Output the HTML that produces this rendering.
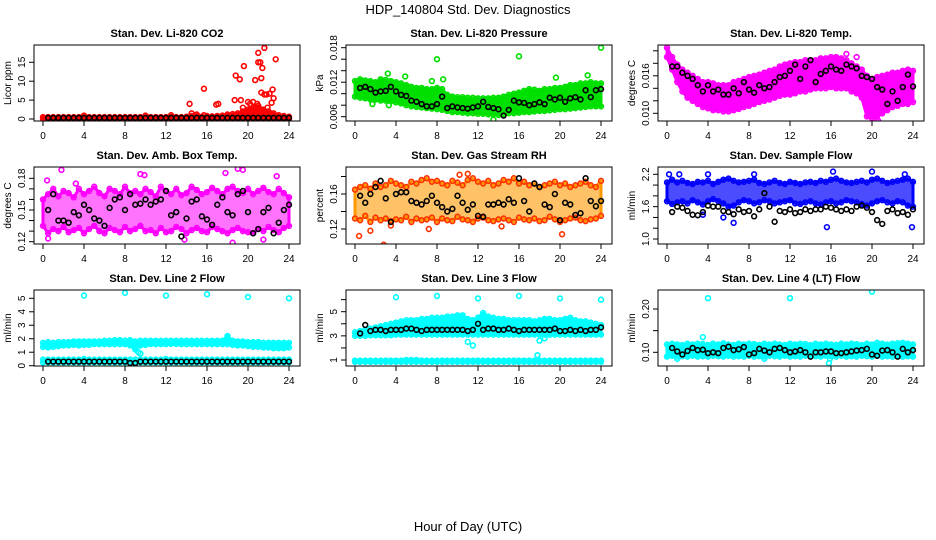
<!DOCTYPE html>
<html><head><meta charset="utf-8"><style>
html,body{margin:0;padding:0;background:#fff;}
svg{display:block;font-family:"Liberation Sans",Arial,sans-serif;}
</style></head><body>
<svg id="chart" width="936" height="540" viewBox="0 0 936 540">
<text x="468" y="14" text-anchor="middle" font-size="13">HDP_140804  Std. Dev. Diagnostics</text>
<text x="468" y="531" text-anchor="middle" font-size="13">Hour of Day (UTC)</text>
</svg>
<script>
const HRS=[0,0.5,1,1.5,2,2.5,3,3.5,4,4.5,5,5.5,6,6.5,7,7.5,8,8.5,9,9.5,10,10.5,11,11.5,12,12.5,13,13.5,14,14.5,15,15.5,16,16.5,17,17.5,18,18.5,19,19.5,20,20.5,21,21.5,22,22.5,23,23.5,24];
const X_TICKS=[0,4,8,12,16,20,24];

const CO2_LO=[0.1,0.1,0.1,0.1,0.1,0.1,0.1,0.1,0.1,0.1,0.1,0.1,0.1,0.1,0.1,0.1,0.1,0.1,0.1,0.1,0.1,0.1,0.1,0.1,0.1,0.1,0.1,0.1,0.1,0.1,0.1,0.1,0.1,0.1,0.1,0.1,0.1,0.1,0.1,0.1,0.1,0.1,0.1,0.1,0.1,0.1,0.1,0.1,0.1];
const CO2_HI=[0.5,0.5,0.5,0.5,0.5,0.5,0.5,0.5,0.9,0.5,0.5,0.5,0.5,0.5,0.5,0.5,0.5,0.5,0.5,0.5,0.9,0.5,0.5,0.5,0.5,1.0,0.5,0.5,0.6,0.8,1.2,0.6,0.8,0.7,0.8,0.9,1.2,1.3,1.5,2.0,2.5,3.0,3.5,2.5,2.0,1.5,1.0,0.8,0.6];
const CO2_BK=[0.3,0.3,0.3,0.3,0.3,0.3,0.3,0.3,0.3,0.3,0.3,0.3,0.3,0.3,0.3,0.3,0.3,0.3,0.3,0.3,0.3,0.3,0.3,0.3,0.3,0.3,0.3,0.3,0.3,0.3,0.3,0.3,0.3,0.3,0.3,0.3,0.3,0.3,0.3,0.3,0.3,0.3,0.3,0.3,0.3,0.3,0.3,0.3,0.3];
const CO2_OUT_T=[14.3,14.5,15.7,15.7,16.9,17.1,18.7,18.8,19.2,19.3,19.5,19.6,20,20.2,20.5,20.7,20.9,21,21,21.2,21.3,21.3,21.4,21.6,21.6,21.8,21.9,22.1,22.4,22.3,22.5,22.7,20.8,21.5,22.2];
const CO2_OUT_V=[4,1.5,8,1,3.8,4,5,11.5,10.5,5,3,14,4.5,4,4.5,10.3,4,17.5,15,15,7,10.8,13.5,18.8,6.5,6.5,3,6.7,7.8,4.3,5.5,15.8,2.5,2,1.5];

const P_LO=[0.0095,0.0093,0.0092,0.009,0.009,0.0088,0.0088,0.0087,0.0085,0.0083,0.008,0.0078,0.0077,0.0076,0.0075,0.0074,0.0073,0.0072,0.007,0.0068,0.0068,0.0067,0.0066,0.0066,0.0065,0.0065,0.0064,0.0064,0.0063,0.0064,0.0066,0.0066,0.0067,0.0068,0.0068,0.0069,0.007,0.007,0.0071,0.0072,0.0073,0.0073,0.0074,0.0075,0.0076,0.0077,0.0078,0.0078,0.0078];
const P_HI=[0.0122,0.0125,0.0123,0.0122,0.012,0.0122,0.0124,0.0122,0.012,0.0118,0.0115,0.0112,0.011,0.011,0.0108,0.0108,0.011,0.0108,0.0098,0.0095,0.0094,0.0094,0.0093,0.0093,0.0092,0.0092,0.0092,0.0093,0.0093,0.0095,0.0098,0.01,0.0102,0.0105,0.0108,0.0107,0.0105,0.0108,0.0108,0.011,0.011,0.0112,0.0115,0.0115,0.0118,0.0118,0.012,0.0118,0.0118];
const P_BK=[0.011,0.011,0.0112,0.0108,0.0102,0.0104,0.0105,0.0112,0.0104,0.0098,0.0096,0.0088,0.0086,0.0082,0.0078,0.0078,0.0082,0.0095,0.0075,0.0078,0.0076,0.0075,0.0074,0.0076,0.0078,0.0086,0.0077,0.0075,0.0073,0.0062,0.0072,0.0088,0.0085,0.0084,0.008,0.0082,0.0085,0.0082,0.0093,0.009,0.0093,0.0086,0.0092,0.0094,0.009,0.0106,0.0094,0.0106,0.0108];
const P_OUT_T=[8,16,24,3.2,4.9,19.6,22.7,13.5,7.5,8.6,1.7,3.3,0.2,2.5];
const P_OUT_V=[0.016,0.0165,0.018,0.0135,0.013,0.0128,0.0132,0.0055,0.0122,0.0125,0.0082,0.008,0.0118,0.0125];

const T_LO=[0.019,0.017,0.015,0.0135,0.0125,0.012,0.0115,0.011,0.0108,0.0105,0.0105,0.0103,0.0103,0.0105,0.0107,0.011,0.0112,0.0115,0.0118,0.012,0.0122,0.0125,0.0128,0.013,0.013,0.0132,0.0135,0.0135,0.0138,0.014,0.014,0.014,0.0142,0.014,0.014,0.014,0.0135,0.0132,0.0125,0.0095,0.0092,0.0095,0.01,0.0105,0.011,0.0112,0.0115,0.0115,0.0118];
const T_HI=[0.0205,0.019,0.0178,0.017,0.0165,0.016,0.0155,0.015,0.015,0.0148,0.0145,0.0145,0.0145,0.015,0.0152,0.0155,0.0158,0.016,0.0162,0.0165,0.0168,0.017,0.0175,0.0178,0.018,0.0182,0.0182,0.0185,0.0185,0.0185,0.0188,0.0188,0.019,0.019,0.0188,0.0185,0.018,0.0175,0.017,0.016,0.0155,0.0158,0.016,0.0162,0.0165,0.0165,0.0168,0.017,0.0168];
const T_BK=[0.019,0.0175,0.0175,0.0165,0.016,0.0155,0.0145,0.0135,0.0145,0.0135,0.0138,0.013,0.013,0.014,0.0132,0.015,0.0138,0.0133,0.0145,0.014,0.0142,0.015,0.0158,0.016,0.0168,0.0178,0.0155,0.0175,0.0185,0.015,0.0163,0.0168,0.0175,0.017,0.0168,0.0178,0.0175,0.0172,0.016,0.0158,0.0155,0.0142,0.0138,0.0115,0.0135,0.012,0.0142,0.0162,0.0143];
const T_OUT_T=[20.4,20.6,17.5,18.5,3,2.1];
const T_OUT_V=[0.0088,0.0088,0.0195,0.019,0.0125,0.0135];

const A_LO=[0.135,0.128,0.132,0.13,0.134,0.129,0.131,0.133,0.128,0.132,0.135,0.13,0.128,0.133,0.131,0.129,0.134,0.13,0.132,0.135,0.13,0.131,0.128,0.133,0.129,0.13,0.134,0.132,0.128,0.131,0.133,0.13,0.129,0.134,0.132,0.13,0.128,0.131,0.133,0.13,0.129,0.128,0.132,0.13,0.134,0.131,0.129,0.133,0.135];
const A_HI=[0.16,0.165,0.17,0.163,0.168,0.166,0.162,0.17,0.165,0.168,0.172,0.166,0.163,0.17,0.168,0.165,0.172,0.166,0.168,0.165,0.17,0.167,0.163,0.172,0.168,0.165,0.17,0.164,0.166,0.172,0.169,0.165,0.167,0.171,0.168,0.165,0.17,0.172,0.168,0.166,0.17,0.165,0.168,0.171,0.167,0.165,0.17,0.166,0.162];
const A_BK=[0.145,0.15,0.165,0.14,0.14,0.138,0.148,0.145,0.155,0.15,0.142,0.14,0.135,0.152,0.16,0.162,0.15,0.165,0.155,0.156,0.16,0.155,0.158,0.16,0.168,0.145,0.148,0.125,0.142,0.158,0.16,0.144,0.141,0.136,0.155,0.162,0.148,0.145,0.165,0.168,0.148,0.128,0.132,0.148,0.152,0.128,0.138,0.15,0.155];
const A_OUT_T=[0.4,0.5,1.8,3.2,9.5,9.9,13.8,17.8,18.5,19,19.5,22.8,21.5];
const A_OUT_V=[0.178,0.123,0.188,0.175,0.184,0.183,0.122,0.185,0.119,0.189,0.188,0.182,0.122];

const R_LO=[0.132,0.13,0.135,0.128,0.133,0.13,0.132,0.129,0.131,0.13,0.134,0.128,0.132,0.13,0.131,0.133,0.128,0.132,0.13,0.129,0.134,0.131,0.13,0.128,0.132,0.133,0.13,0.129,0.131,0.132,0.13,0.128,0.133,0.131,0.13,0.132,0.129,0.13,0.134,0.131,0.128,0.13,0.132,0.133,0.13,0.129,0.131,0.132,0.135];
const R_HI=[0.165,0.168,0.17,0.166,0.172,0.168,0.17,0.175,0.172,0.17,0.168,0.174,0.172,0.176,0.178,0.174,0.175,0.172,0.17,0.175,0.173,0.17,0.176,0.178,0.174,0.172,0.175,0.17,0.172,0.176,0.174,0.178,0.172,0.174,0.17,0.172,0.168,0.17,0.172,0.174,0.17,0.172,0.168,0.17,0.172,0.174,0.17,0.168,0.175];
const R_BK=[0.178,0.158,0.15,0.16,0.168,0.175,0.155,0.128,0.16,0.162,0.162,0.152,0.15,0.148,0.152,0.158,0.15,0.145,0.14,0.143,0.158,0.15,0.142,0.148,0.135,0.134,0.148,0.148,0.15,0.148,0.154,0.15,0.178,0.152,0.14,0.172,0.168,0.148,0.145,0.16,0.13,0.15,0.148,0.136,0.138,0.178,0.152,0.146,0.152];
const R_OUT_T=[0.4,1.5,2.8,3.5,14.3,20.2,10.2,11,7.2];
const R_OUT_V=[0.112,0.118,0.102,0.124,0.123,0.114,0.182,0.183,0.12];

const S_LO=[1.7,1.65,1.68,1.7,1.66,1.72,1.68,1.64,1.7,1.74,1.7,1.66,1.6,1.62,1.68,1.72,1.7,1.66,1.68,1.72,1.7,1.66,1.68,1.7,1.72,1.66,1.65,1.68,1.7,1.66,1.64,1.68,1.7,1.66,1.68,1.72,1.7,1.68,1.65,1.62,1.66,1.7,1.72,1.68,1.66,1.7,1.68,1.62,1.6];
const S_HI=[2.05,2.1,2.05,2.08,2.04,2.02,2.06,2.05,2.08,2.02,2.06,2.1,2.12,2.08,2.05,2.06,2.08,2.1,2.04,2.02,2.05,2.08,2.04,2.02,2.06,2.04,2.02,2.05,2.06,2.04,2.08,2.06,2.1,2.12,2.08,2.05,2.04,2.06,2.08,2.05,2.1,2.12,2.08,2.04,2.06,2.08,2.1,2.12,2.06];
const S_BK=[1.55,1.5,1.6,1.58,1.52,1.45,1.44,1.5,1.62,1.6,1.6,1.52,1.5,1.46,1.55,1.5,1.52,1.42,1.55,1.85,1.6,1.32,1.52,1.5,1.55,1.48,1.5,1.55,1.52,1.55,1.55,1.6,1.58,1.55,1.52,1.55,1.52,1.6,1.62,1.58,1.5,1.35,1.28,1.52,1.55,1.48,1.5,1.45,1.55];
const S_OUT_T=[0.2,1.2,4,8.5,15.6,16.2,23.2,23.9,20,3.5,5.5,6.5];
const S_OUT_V=[2.2,2.2,2.2,2.2,1.22,2.25,2.2,1.22,2.25,1.45,1.4,1.3];

const L2_LO=[1.4,1.35,1.4,1.45,1.5,1.5,1.55,1.5,1.55,1.55,1.6,1.6,1.6,1.6,1.6,1.6,1.6,1.5,1.2,1.5,1.55,1.6,1.6,1.6,1.6,1.62,1.62,1.6,1.6,1.6,1.6,1.6,1.6,1.6,1.6,1.6,1.6,1.55,1.5,1.5,1.45,1.4,1.4,1.35,1.35,1.3,1.3,1.3,1.35];
const L2_HI=[1.7,1.75,1.7,1.75,1.75,1.75,1.8,1.8,1.8,1.8,1.8,1.8,1.85,1.85,1.9,1.9,1.85,1.9,1.8,1.85,1.85,1.85,1.85,1.85,1.85,1.85,1.85,1.85,1.85,1.85,1.85,1.85,1.85,1.85,1.85,1.85,2.2,1.85,1.8,1.8,1.75,1.75,1.75,1.7,1.7,1.7,1.7,1.7,1.7];
const L2_LO2=[0.25,0.25,0.25,0.25,0.25,0.25,0.25,0.25,0.25,0.25,0.25,0.25,0.25,0.25,0.25,0.25,0.25,0.25,0.25,0.25,0.25,0.25,0.25,0.25,0.25,0.25,0.25,0.25,0.25,0.25,0.25,0.25,0.25,0.25,0.25,0.25,0.25,0.25,0.25,0.25,0.25,0.25,0.25,0.25,0.25,0.25,0.25,0.25,0.25];
const L2_HI2=[0.45,0.45,0.45,0.45,0.45,0.45,0.45,0.45,0.5,0.45,0.45,0.45,0.45,0.45,0.45,0.45,0.45,0.45,0.45,0.45,0.45,0.45,0.45,0.45,0.5,0.45,0.45,0.45,0.45,0.45,0.45,0.45,0.45,0.45,0.45,0.45,0.45,0.45,0.45,0.45,0.45,0.45,0.45,0.45,0.45,0.45,0.45,0.45,0.45];
const L2_BK=[0.3,0.3,0.3,0.3,0.3,0.3,0.3,0.3,0.3,0.3,0.3,0.3,0.3,0.3,0.3,0.3,0.3,0.2,0.2,0.3,0.3,0.3,0.3,0.3,0.3,0.3,0.3,0.3,0.3,0.3,0.3,0.3,0.3,0.3,0.3,0.3,0.3,0.3,0.3,0.3,0.3,0.3,0.3,0.3,0.3,0.3,0.3,0.3,0.3];
const L2_OUT_T=[4,8,12,16,20,24,9.3,9.5];
const L2_OUT_V=[5.2,5.4,5.2,5.3,5.1,5.0,1.0,0.9];

const L3_LO=[3.0,3.0,3.0,3.05,3.05,3.05,3.05,3.05,3.1,3.1,3.1,3.1,3.1,3.1,3.1,3.1,3.1,3.1,3.1,3.1,3.1,3.1,3.1,3.1,3.1,3.1,3.1,3.1,3.1,3.1,3.1,3.1,3.1,3.1,3.1,3.1,3.1,3.1,3.1,3.1,3.1,3.1,3.1,3.1,3.1,3.1,3.1,3.1,3.1];
const L3_HI=[3.3,3.4,3.5,3.6,3.7,3.8,3.9,4.0,4.1,4.2,4.3,4.3,4.3,4.4,4.4,4.5,4.5,4.5,4.6,4.6,4.7,4.7,4.4,4.3,4.5,4.9,4.6,4.5,4.4,4.4,4.3,4.3,4.3,4.3,4.3,4.2,4.3,4.4,4.4,4.3,4.3,4.4,4.5,4.3,4.2,4.2,4.1,4.0,3.9];
const L3_LO2=[0.85,0.85,0.85,0.85,0.85,0.85,0.85,0.85,0.85,0.85,0.85,0.85,0.85,0.85,0.85,0.85,0.85,0.85,0.85,0.85,0.85,0.85,0.85,0.85,0.85,0.85,0.85,0.85,0.85,0.85,0.85,0.85,0.85,0.85,0.85,0.85,0.85,0.85,0.85,0.85,0.85,0.85,0.85,0.85,0.85,0.85,0.85,0.85,0.85];
const L3_HI2=[0.95,0.95,0.95,0.95,0.95,0.95,0.95,0.95,0.95,0.95,1.0,1.0,1.0,0.95,0.95,0.95,0.95,0.95,0.95,0.95,0.95,0.95,0.95,0.95,0.95,0.95,0.95,0.95,0.95,0.95,0.95,0.95,0.95,0.95,0.95,0.95,0.95,0.95,0.95,0.95,0.95,0.95,0.95,0.95,0.95,0.95,0.95,0.95,0.95];
const L3_BK=[3.2,3.2,3.9,3.4,3.5,3.5,3.4,3.5,3.5,3.5,3.6,3.6,3.5,3.4,3.5,3.5,3.5,3.5,3.5,3.5,3.5,3.5,3.4,3.5,4.0,3.5,3.6,3.6,3.5,3.5,3.6,3.5,3.4,3.5,3.5,3.5,3.5,3.5,3.5,3.6,3.4,3.4,3.5,3.4,3.5,3.4,3.5,3.5,3.7];
const L3_OUT_T=[4,8,12,16,20,24,11,11.5,17.8,18,18.5];
const L3_OUT_V=[6.2,6.3,6.1,6.3,6.1,6.0,2.5,2.2,1.4,2.6,2.8];

const L4_LO=[0.09,0.092,0.09,0.091,0.09,0.092,0.09,0.091,0.09,0.092,0.091,0.09,0.092,0.09,0.091,0.09,0.092,0.09,0.091,0.09,0.092,0.091,0.09,0.092,0.09,0.091,0.09,0.092,0.09,0.091,0.09,0.092,0.091,0.09,0.092,0.09,0.091,0.09,0.092,0.091,0.09,0.092,0.09,0.091,0.09,0.092,0.09,0.091,0.09];
const L4_HI=[0.118,0.12,0.118,0.117,0.12,0.118,0.12,0.119,0.117,0.12,0.118,0.121,0.118,0.117,0.12,0.118,0.12,0.119,0.117,0.12,0.118,0.12,0.118,0.117,0.12,0.118,0.12,0.119,0.117,0.12,0.118,0.12,0.118,0.117,0.12,0.118,0.12,0.119,0.117,0.12,0.118,0.122,0.12,0.118,0.12,0.121,0.122,0.12,0.118];
const L4_BK=[0.1,0.11,0.102,0.095,0.103,0.11,0.105,0.106,0.098,0.1,0.098,0.11,0.113,0.105,0.107,0.112,0.095,0.098,0.108,0.104,0.1,0.108,0.11,0.105,0.1,0.102,0.105,0.1,0.09,0.1,0.1,0.102,0.102,0.098,0.098,0.1,0.102,0.104,0.105,0.108,0.095,0.092,0.104,0.105,0.1,0.09,0.108,0.1,0.105];
const L4_OUT_T=[4,12,20,3.5,1,9.5,15.8,15.9];
const L4_OUT_V=[0.225,0.225,0.24,0.135,0.085,0.085,0.075,0.085];

const svg=document.getElementById('chart');
const NS='http://www.w3.org/2000/svg';
function mk(tag,attrs,parent){const e=document.createElementNS(NS,tag);for(const k in attrs)e.setAttribute(k,attrs[k]);(parent||svg).appendChild(e);return e;}

const COLS=[34,346,658], ROWS=[[45,121],[167,244],[290,366]];
const panels=[
 {title:'Stan. Dev. Li-820 CO2',ylab:'Licor ppm',c:0,r:0,col:'#ff0000',cal:[0,119,15,62.3],ticks:[0,5,10,15],labels:[0,5,10,15],lo:CO2_LO,hi:CO2_HI,bk:CO2_BK,ot:CO2_OUT_T,ov:CO2_OUT_V,fmt:v=>v},
 {title:'Stan. Dev. Li-820 Pressure',ylab:'kPa',c:1,r:0,col:'#00e000',cal:[0.018,47.7,0.006,116.7],ticks:[0.006,0.008,0.010,0.012,0.014,0.016,0.018],labels:[0.006,0.012,0.018],lo:P_LO,hi:P_HI,bk:P_BK,ot:P_OUT_T,ov:P_OUT_V,fmt:v=>v.toFixed(3)},
 {title:'Stan. Dev. Li-820 Temp.',ylab:'degrees C',c:2,r:0,col:'#ff00ff',cal:[0.010,113.3,0.016,75.8],ticks:[0.010,0.012,0.014,0.016,0.018,0.020],labels:[0.010,0.016],lo:T_LO,hi:T_HI,bk:T_BK,ot:T_OUT_T,ov:T_OUT_V,fmt:v=>v.toFixed(3)},
 {title:'Stan. Dev. Amb. Box Temp.',ylab:'degrees C',c:0,r:1,col:'#ff00ff',cal:[0.18,178.3,0.12,241.7],ticks:[0.12,0.13,0.14,0.15,0.16,0.17,0.18],labels:[0.12,0.15,0.18],lo:A_LO,hi:A_HI,bk:A_BK,ot:A_OUT_T,ov:A_OUT_V,fmt:v=>v.toFixed(2),op:0.55},
 {title:'Stan. Dev. Gas Stream RH',ylab:'percent',c:1,r:1,col:'#ff9900',stroke:'#ff3300',cal:[0.16,194,0.12,229],ticks:[0.12,0.14,0.16,0.18],labels:[0.12,0.16],lo:R_LO,hi:R_HI,bk:R_BK,ot:R_OUT_T,ov:R_OUT_V,fmt:v=>v.toFixed(2),op:0.6},
 {title:'Stan. Dev. Sample Flow',ylab:'ml/min',c:2,r:1,col:'#0000ff',cal:[2.2,174.3,1.0,239],ticks:[1.0,1.2,1.4,1.6,1.8,2.0,2.2],labels:[1.0,1.6,2.2],lo:S_LO,hi:S_HI,bk:S_BK,ot:S_OUT_T,ov:S_OUT_V,fmt:v=>v.toFixed(1),op:0.7},
 {title:'Stan. Dev. Line 2 Flow',ylab:'ml/min',c:0,r:2,col:'#00ffff',cal:[5,298.3,0,365.7],ticks:[0,1,2,3,4,5],labels:[0,1,2,3,4,5],lo:L2_LO,hi:L2_HI,lo2:L2_LO2,hi2:L2_HI2,bk:L2_BK,ot:L2_OUT_T,ov:L2_OUT_V,fmt:v=>v},
 {title:'Stan. Dev. Line 3 Flow',ylab:'ml/min',c:1,r:2,col:'#00ffff',cal:[5,311.7,1,360],ticks:[1,2,3,4,5,6],labels:[1,3,5],lo:L3_LO,hi:L3_HI,lo2:L3_LO2,hi2:L3_HI2,bk:L3_BK,ot:L3_OUT_T,ov:L3_OUT_V,fmt:v=>v},
 {title:'Stan. Dev. Line 4 (LT) Flow',ylab:'ml/min',c:2,r:2,col:'#00ffff',cal:[0.20,309,0.10,352.3],ticks:[0.10,0.15,0.20],labels:[0.10,0.20],lo:L4_LO,hi:L4_HI,bk:L4_BK,ot:L4_OUT_T,ov:L4_OUT_V,fmt:v=>v.toFixed(2)}
];

panels.forEach((p,i)=>{
 const bx=COLS[p.c], top=ROWS[p.r][0], bot=ROWS[p.r][1];
 const g=mk('g',{});
 
 
 const xs=h=>bx+9+h*10.25;
 const [v0,p0,v1,p1]=p.cal;
 const ys=v=>p0+(v-v0)*(p1-p0)/(v1-v0);
 const t=mk('text',{x:bx+133,y:top-8,'text-anchor':'middle','font-size':'11','font-weight':'bold'},g);
 t.textContent=p.title;
 
 
 const cl='clip'+i;
 const cp=mk('clipPath',{id:cl},g); mk('rect',{x:bx,y:top,width:266,height:bot-top},cp);
 const data=mk('g',{'clip-path':'url(#'+cl+')'},g);
 const st=p.stroke||p.col;
 const band=(lo,hi)=>{
  let d='';
  HRS.forEach((h,k)=>{d+=(k?'L':'M')+xs(h).toFixed(1)+','+ys(hi[k]).toFixed(1);});
  for(let k=HRS.length-1;k>=0;k--) d+='L'+xs(HRS[k]).toFixed(1)+','+ys(lo[k]).toFixed(1);
  const b=mk('path',{d:d+'Z',fill:p.col,'fill-opacity':p.op||1,stroke:p.col,'stroke-width':3,'stroke-linejoin':'round'},data);
  
  
  HRS.forEach((h,k)=>{[lo[k],hi[k]].forEach(v=>{
   const c=mk('circle',{cx:xs(h),cy:ys(v),r:2.4,fill:'none',stroke:st,'stroke-width':1.6},data);
   
   
  });});
 };
 band(p.lo,p.hi);
 if(p.lo2) band(p.lo2,p.hi2);
 p.ot.forEach((h,k)=>{
  const c=mk('circle',{cx:xs(h),cy:ys(p.ov[k]),r:2.4,fill:'none',stroke:st,'stroke-width':1.6},data);
  
  
 });
 HRS.forEach((h,k)=>{
  if(k===0) return;
  const c=mk('circle',{cx:xs(h),cy:ys(p.bk[k]),r:2.4,fill:'none',stroke:'#000','stroke-width':1.6},data);
  
  
 });
 const box=mk('rect',{x:bx,y:top,width:266,height:bot-top,fill:'none',stroke:'#000','stroke-width':1},g);
 
 
 const ax=mk('g',{},g);
 
 
 mk('line',{x1:xs(0),x2:xs(24),y1:bot,y2:bot,stroke:'#000'},ax);
 X_TICKS.forEach(v=>{
  mk('line',{x1:xs(v),x2:xs(v),y1:bot,y2:bot+5,stroke:'#000'},ax);
  const l=mk('text',{x:xs(v),y:bot+18,'text-anchor':'middle','font-size':'10'},ax);
  l.textContent=v;
  
  
 });
 const ay=mk('g',{},g);
 
 
 mk('line',{x1:bx,x2:bx,y1:ys(p.ticks[0]),y2:ys(p.ticks[p.ticks.length-1]),stroke:'#000'},ay);
 p.ticks.forEach(v=>mk('line',{x1:bx-5,x2:bx,y1:ys(v),y2:ys(v),stroke:'#000'},ay));
 p.labels.forEach(v=>{
  const y=ys(v);
  const l=mk('text',{x:bx-9,y:y,'text-anchor':'middle','font-size':'10',transform:'rotate(-90 '+(bx-9)+' '+y+')'},ay);
  l.textContent=p.fmt(v);
  
  
 });
 const cy=(top+bot)/2;
 const yl=mk('text',{x:bx-23,y:cy,'text-anchor':'middle','font-size':'10',transform:'rotate(-90 '+(bx-23)+' '+cy+')'},g);
 yl.textContent=p.ylab;
 
 
});
</script>
</body></html>
